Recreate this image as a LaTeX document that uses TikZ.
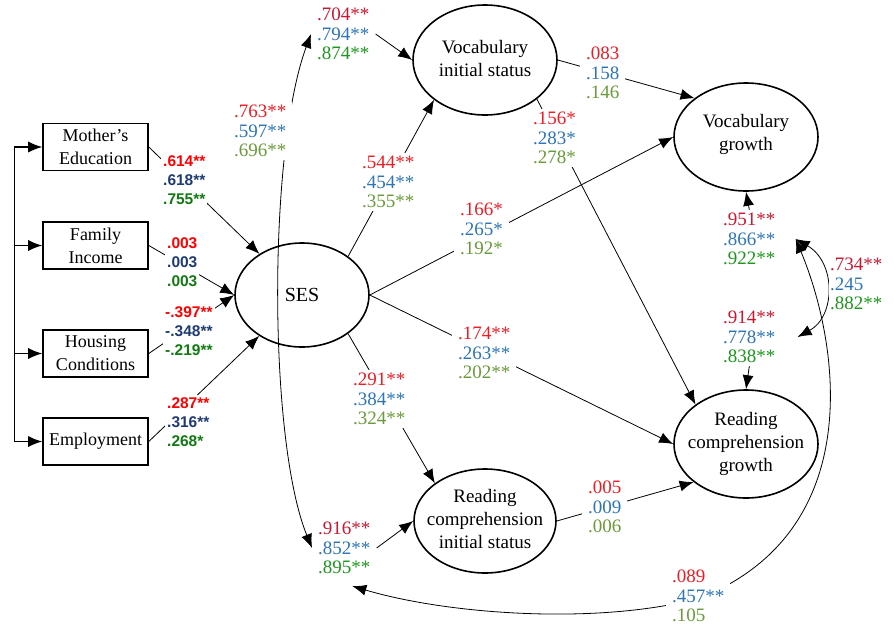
\documentclass[tikz,border=0pt]{standalone}
\usepackage{fontspec}
\setmainfont{Liberation Serif}
\newfontfamily\arialfont{Liberation Sans}
\usepackage {tikz}
\usetikzlibrary{shapes,arrows,arrows.meta}
\definecolor{ered}{HTML}{EE1C24}
\definecolor{edred}{HTML}{C9182F}
\definecolor{eblue}{HTML}{2E75B6}
\definecolor{eolive}{HTML}{6A9A3A}
\definecolor{egreen}{HTML}{1E961E}
\definecolor{bred}{HTML}{FF0000}
\definecolor{bnavy}{HTML}{1F3B73}
\definecolor{bgreen}{HTML}{127A12}
\newcommand{\pathvals}[3]{\textcolor{ered}{#1}\\\textcolor{eblue}{#2}\\\textcolor{eolive}{#3}}
\newcommand{\resvals}[3]{\textcolor{edred}{#1}\\\textcolor{eblue}{#2}\\\textcolor{egreen}{#3}}
\newcommand{\obsvals}[3]{\textcolor{bred}{#1}\\\textcolor{bnavy}{#2}\\\textcolor{bgreen}{#3}}
\newcommand{\lv}[1]{\makebox[0pt]{\begin{tabular}{@{}c@{}}#1\end{tabular}}}
\tikzstyle{line} = [draw, line width=0.8pt, -{Latex[length=14pt,width=11pt]}]
\tikzstyle{dline} = [draw, line width=0.8pt, {Latex[length=14pt,width=11pt]}-{Latex[length=14pt,width=11pt]}]
\tikzstyle{line1} = [draw, line width=1.1pt, -]
\tikzstyle{var} = [draw, rectangle, line width=1.6pt, minimum width=105pt, minimum height=47pt, align=center, font=\fontsize{18}{23}\selectfont]
\tikzstyle{latent} = [draw, ellipse, line width=1.6pt, minimum width=144pt, minimum height=108pt, inner sep=0pt, font=\fontsize{19}{23}\selectfont]
\tikzstyle{est} = [fill=white, align=left, anchor=west, inner xsep=6pt, inner ysep=3pt, font=\fontsize{19}{19.5}\selectfont]
\tikzstyle{best} = [est, inner xsep=2pt, font=\arialfont\bfseries\fontsize{15.5}{19}\selectfont]

\begin{document}
\begin{tikzpicture}[x=1pt, y=-1pt]
	\useasboundingbox (0,0) rectangle (894,627);
	% SES indicators
	\node[var] (me) at (95.5,147) {Mother’s\\Education};
	\node[var] (fi) at (95.5,245.5) {Family\\Income};
	\node[var] (hc) at (95.5,353.5) {Housing\\Conditions};
	\node[var] (em) at (95.5,441.5) {Employment};
	\path [line1] ([xshift=-28pt]me.west) -- ([xshift=-28pt]em.west);
	\foreach \v in {me,fi,hc,em}
		\path [line, line width=1.1pt] ([xshift=-28pt]\v.west) -- (\v.west);
	
	% latent variables
	\node[latent, minimum width=134pt, minimum height=104pt, font=\fontsize{20}{24}\selectfont] (ses) at (302,295) {SES};
	\node[latent, minimum height=110pt] (vi) at (485,60) {\lv{Vocabulary\\initial status}};
	\node[latent] (vg) at (746,137) {\raisebox{23pt}{\lv{Vocabulary\\growth}}};
	\node[latent] (rg) at (746,444) {\raisebox{-8pt}{\lv{Reading\\comprehension\\growth}}};
	\node[latent, minimum width=142pt, minimum height=104pt] (ri) at (485,521) {\lv{Reading\\comprehension\\initial status}};
	
	% residuals
	\node[est] (rvi) at (311,34) {\resvals{.704**}{.794**}{.874**}};
	\node[est] (rri) at (312,548) {\resvals{.916**}{.852**}{.895**}};
	\node[est] (rvg) at (717,239) {\resvals{.951**}{.866**}{.922**}};
	\node[est] (rrg) at (717,337) {\resvals{.914**}{.778**}{.838**}};
	
	\path [line] (me.east) -- (ses);
	\path [line] (fi.east) -- (ses.west);
	\path [line] (hc.east) -- (ses.west);
	\path [line] (em.east) -- (ses);
	\path [line] (ses.40) -- (vi.218);
	\path [line] (ses.east) -- (vg.west);
	\path [line] (ses.east) -- (rg.west);
	\path [line] (ses.320) -- (ri.143);
	\path [line] (vi.east) -- (vg.143);
	\path [line] (vi.323) -- (rg.142);
	\path [line] (ri.east) -- (rg.216);
	\path [line] (rvi.east) -- (vi.west);
	\path [line] (rri.east) -- (ri.west);
	\path [line] (rvg.north) -- (vg.south);
	\path [line] (rrg.south) -- (rg.north);
	
	% covariances
	\path [dline] (rvi.west) .. controls (268,150) and (268,440) .. (rri.west);
	\path [dline] ([xshift=14pt]rvg.east) .. controls (836,262) and (836,316) .. ([xshift=16pt]rrg.east);
	\path [dline] ([xshift=8pt,yshift=-9pt]rri.south) .. controls (450,615) and (600,625) .. (700,598) .. controls (870,530) and (838,340) .. ([xshift=14pt]rvg.east);
	
	% estimates
	\node[best] (lme) at (161,180.5) {\obsvals{.614**}{.618**}{.755**}};
	\node[best] (lfi) at (165,262) {\obsvals{.003}{.003}{.003}};
	\node[best] (lhc) at (163,331) {\obsvals{-.397**}{-.348**}{-.219**}};
	\node[best] (lem) at (165,422) {\obsvals{.287**}{.316**}{.268*}};
	\node[est] (lvi) at (356,182) {\pathvals{.544**}{.454**}{.355**}};
	\node[est] (lvg) at (454,229) {\pathvals{.166*}{.265*}{.192*}};
	\node[est] (lrg) at (452,353) {\pathvals{.174**}{.263**}{.202**}};
	\node[est] (lri) at (347,399) {\pathvals{.291**}{.384**}{.324**}};
	\node[est] (lvv) at (580,73) {\pathvals{.083}{.158}{.146}};
	\node[est] (lvr) at (527,138) {\pathvals{.156*}{.283*}{.278*}};
	\node[est] (lrr) at (582,507) {\pathvals{.005}{.009}{.006}};
	\node[est] (lcor) at (228,131) {\pathvals{.763**}{.597**}{.696**}};
	\node[est, inner xsep=1pt] (lcg) at (829,284) {\resvals{.734**}{.245}{.882**}};
	\node[est] (lcx) at (666,596) {\pathvals{.089}{.457**}{.105}};
\end{tikzpicture}
\end{document}
